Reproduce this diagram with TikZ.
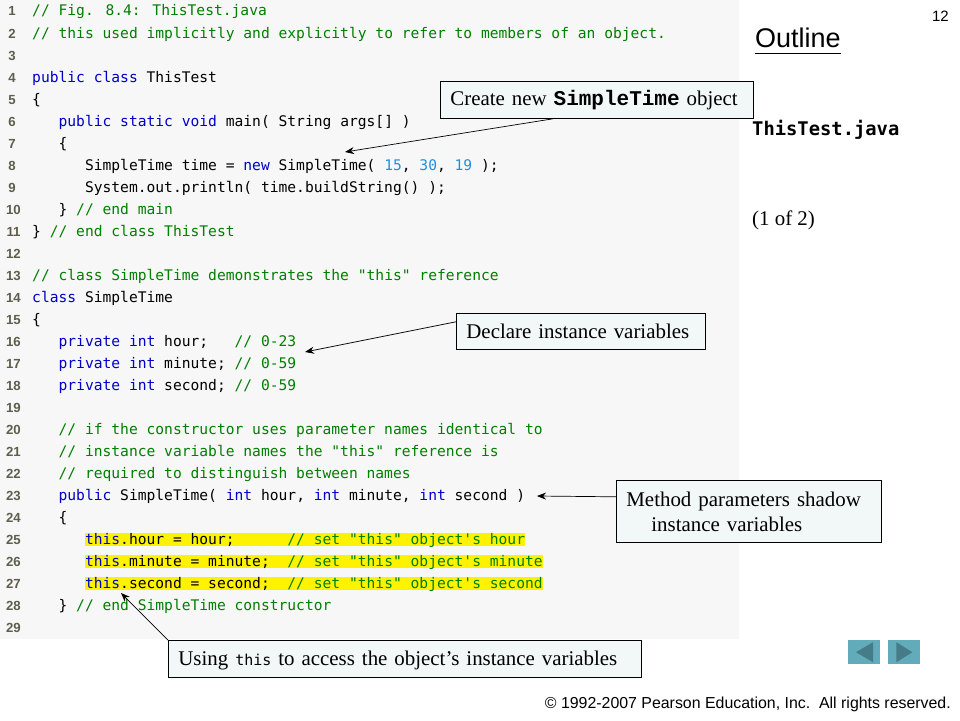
\documentclass[tikz,border=0pt]{standalone}
\usepackage{fontspec}
\usepackage{xcolor}
\usetikzlibrary{arrows.meta}
\setmainfont{Liberation Serif}
\newfontfamily\codefont{DejaVu Sans Mono}
\newfontfamily\arialfont{Liberation Sans}
\newfontfamily\courfont{Liberation Mono}
\definecolor{panelgray}{HTML}{F7F7F7}
\definecolor{boxtint}{HTML}{F2F7F8}
\definecolor{numgray}{HTML}{5E5E4E}
\definecolor{kwdblue}{HTML}{0000C8}
\definecolor{cmtgreen}{HTML}{007F00}
\definecolor{litblue}{HTML}{1E90E0}
\definecolor{navteal}{HTML}{62ABBB}
\definecolor{navdark}{HTML}{467C88}
\newcommand{\kwd}[1]{\textcolor{kwdblue}{#1}}
\newcommand{\cmt}[1]{\textcolor{cmtgreen}{#1}}
\newcommand{\lit}[1]{\textcolor{litblue}{#1}}
\newcommand{\codeln}[4][]{\node[codetext,#1] (code#2) at ({32+26.4*#3},{22*#2-6}) {#4};}
\tikzset{
  codetext/.style={anchor=base west,inner sep=0pt,font=\codefont\fontsize{14.62}{17}\selectfont},
  hiline/.style={fill=yellow,text height=11pt,text depth=2pt},
  linenum/.style={anchor=base,inner sep=0pt,text=numgray,font=\arialfont\bfseries\fontsize{13.2}{15}\selectfont},
  calloutbox/.style={draw=black,fill=boxtint,line width=0.8pt,anchor=north west,inner xsep=10pt,inner ysep=0pt,
    align=left,font=\fontsize{20.9}{25}\selectfont},
  callout/.style={->,>={Stealth[length=9pt,width=7pt]},draw=black,line width=0.7pt},
  sidetext/.style={anchor=base west,inner sep=0pt},
  navbtn/.style={fill=navteal,minimum width=32pt,minimum height=24pt,inner sep=0pt,anchor=north west},
}
\begin{document}
\begin{tikzpicture}[x=1pt,y=-1pt]
  \useasboundingbox (0,0) rectangle (960,720);
  \fill[panelgray] (0,0) rectangle (739,639);
  % line numbers
  \foreach \n in {1,...,9} {
    \node[linenum] (num\n) at (12,{22*\n-6}) {\n};
  }
  \foreach \n in {10,...,29} {
    \node[linenum] (num\n) at (13.5,{22*\n-6}) {\n};
  }
  % first class
  \codeln{1}{0}{\cmt{// Fig. 8.4: ThisTest.java}}
  \codeln{2}{0}{\cmt{// this used implicitly and explicitly to refer to members of an object.}}
  \codeln{4}{0}{\kwd{public class} ThisTest}
  \codeln{5}{0}{\{}
  \codeln{6}{1}{\kwd{public static void} main( String args[] )}
  \codeln{7}{1}{\{}
  \codeln{8}{2}{SimpleTime time = \kwd{new} SimpleTime( \lit{15}, \lit{30}, \lit{19} );}
  \codeln{9}{2}{System.out.println( time.buildString() );}
  \codeln{10}{1}{\} \cmt{// end main}}
  \codeln{11}{0}{\} \cmt{// end class ThisTest}}
  % second class
  \codeln{13}{0}{\cmt{// class SimpleTime demonstrates the "this" reference}}
  \codeln{14}{0}{\kwd{class} SimpleTime}
  \codeln{15}{0}{\{}
  \codeln{16}{1}{\kwd{private int} hour;~~~\cmt{// 0-23}}
  \codeln{17}{1}{\kwd{private int} minute; \cmt{// 0-59}}
  \codeln{18}{1}{\kwd{private int} second; \cmt{// 0-59}}
  \codeln{20}{1}{\cmt{// if the constructor uses parameter names identical to}}
  \codeln{21}{1}{\cmt{// instance variable names the "this" reference is}}
  \codeln{22}{1}{\cmt{// required to distinguish between names}}
  \codeln{23}{1}{\kwd{public} SimpleTime( \kwd{int} hour, \kwd{int} minute, \kwd{int} second )}
  \codeln{24}{1}{\{}
  \codeln[hiline]{25}{2}{\kwd{this}.hour = hour;~~~~~~\cmt{// set "this" object's hour}}
  \codeln[hiline]{26}{2}{\kwd{this}.minute = minute;~~\cmt{// set "this" object's minute}}
  \codeln[hiline]{27}{2}{\kwd{this}.second = second;~~\cmt{// set "this" object's second}}
  \codeln{28}{1}{\} \cmt{// end SimpleTime constructor}}
  % callouts
  \node[calloutbox,text width=293pt,minimum height=37pt] (createbox) at (440,81)
    {Create new {\courfont\bfseries\fontsize{21}{25}\selectfont SimpleTime} object};
  \node[calloutbox,text width=229pt,minimum height=36pt] (declarebox) at (456,313)
    {Declare instance variables};
  \node[calloutbox,text width=245pt,minimum height=62pt] (shadowbox) at (616,480)
    {Method parameters\hspace{7pt}shadow\\\hspace*{25pt}instance variables};
  \node[calloutbox,text width=453pt,minimum height=37pt,text height=19pt,text depth=5pt] (usingbox) at (168,640)
    {Using {\codefont\fontsize{15}{25}\selectfont this} to access the object’s instance variables};
  \coordinate (createtip) at (345,152);
  \coordinate (declaretip) at (305,352);
  \coordinate (shadowtip) at (537,496);
  \coordinate (usingtip) at (121,593);
  \draw[callout] ([xshift=113pt]createbox.south west) -- (createtip);
  \draw[callout] ([yshift=28pt]declarebox.south west) -- (declaretip);
  \draw[callout] ([yshift=46pt]shadowbox.south west) -- (shadowtip);
  \draw[callout] (usingbox.north west) -- (usingtip);
  % right column
  \node[sidetext,font=\arialfont\fontsize{15}{18}\selectfont,anchor=base east] (pagenum) at (949,21) {12};
  \node[sidetext,font=\arialfont\fontsize{27}{32}\selectfont] (outlinehead) at (755,47.5) {Outline};
  \draw[line width=0.9pt] (755,53) -- (841,53);
  \node[sidetext,font=\codefont\bfseries\fontsize{18.8}{22}\selectfont] (filename) at (752,135) {ThisTest.java};
  \node[sidetext,font=\fontsize{20.9}{24}\selectfont] (pagecount) at (752,225) {(1 of 2)};
  % nav buttons
  \node[navbtn] (navback) at (848,640) {};
  \node[navbtn] (navnext) at (888,640) {};
  \fill[navdark] ([xshift=8pt]navback.west) -- ([xshift=25pt,yshift=-10pt]navback.west) -- ([xshift=25pt,yshift=10pt]navback.west) -- cycle;
  \fill[navdark] ([xshift=-8pt]navnext.east) -- ([xshift=-24pt,yshift=-10pt]navnext.east) -- ([xshift=-24pt,yshift=10pt]navnext.east) -- cycle;
  % footer
  \node[sidetext,font=\arialfont\fontsize{15.9}{18}\selectfont,anchor=base east] (footer) at (951,708)
    {© 1992-2007 Pearson Education, Inc.~~All rights reserved.};
\end{tikzpicture}
\end{document}
